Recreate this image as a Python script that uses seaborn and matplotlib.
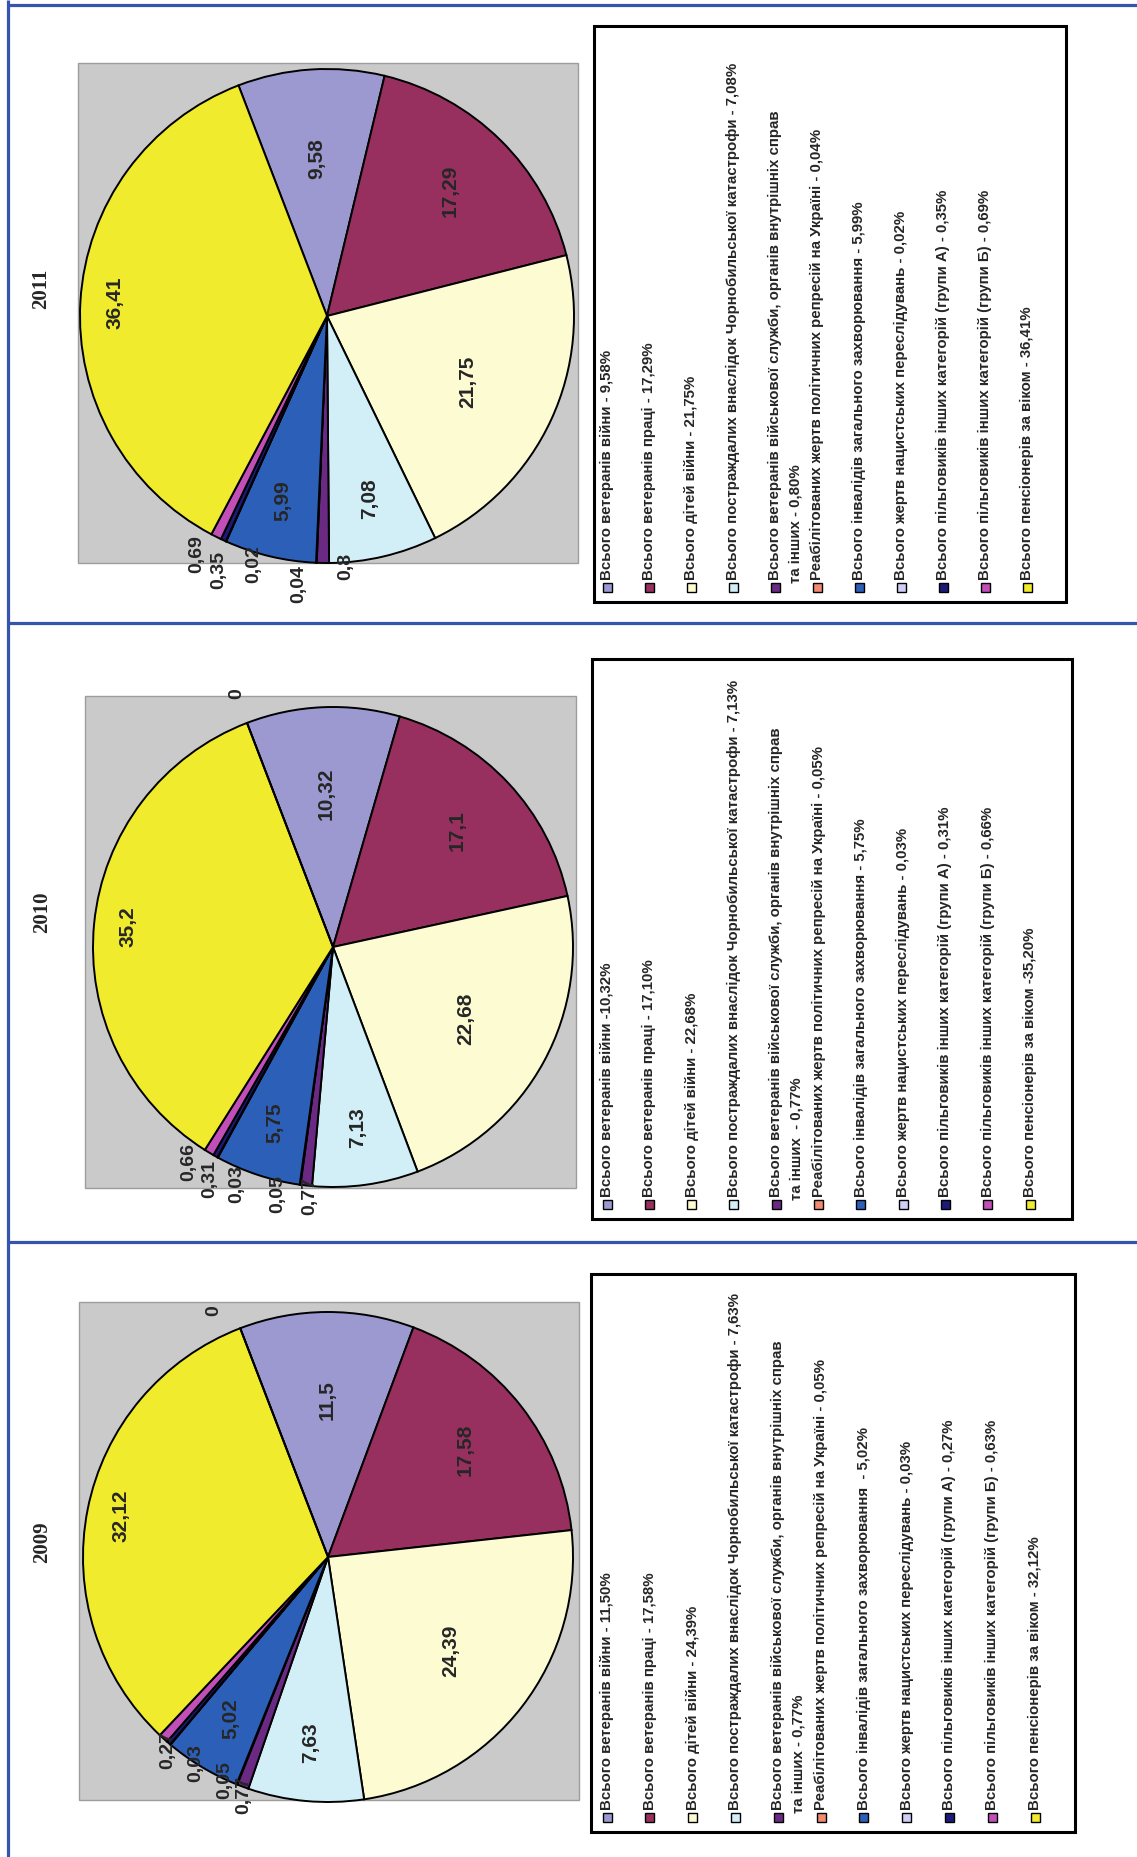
import numpy as np
import matplotlib.pyplot as plt
import seaborn as sns
from matplotlib.patches import Rectangle

W, H = 1137, 1857

YEARS = ['2011', '2010', '2009']

CATEGORIES = [
    'Всього ветеранів війни',
    'Всього ветеранів праці',
    'Всього дітей війни',
    'Всього постраждалих внаслідок Чорнобильської катастрофи',
    'Всього ветеранів військової служби, органів внутрішніх справ\nта інших',
    'Реабілітованих жертв політичних репресій на Україні',
    'Всього інвалідів загального захворювання',
    'Всього жертв нацистських переслідувань',
    'Всього пільговиків інших категорій (групи А)',
    'Всього пільговиків інших категорій (групи Б)',
    'Всього пенсіонерів за віком',
]

# shares, %; the trailing 0 is the unnamed zero point shown as "0" on the pie
VALUES_2011 = [9.58, 17.29, 21.75, 7.08, 0.80, 0.04, 5.99, 0.02, 0.35, 0.69, 36.41]
VALUES_2010 = [10.32, 17.10, 22.68, 7.13, 0.77, 0.05, 5.75, 0.03, 0.31, 0.66, 35.20, 0]
VALUES_2009 = [11.50, 17.58, 24.39, 7.63, 0.77, 0.05, 5.02, 0.03, 0.27, 0.63, 32.12, 0]

PCT_2011 = [' - 9,58%', ' - 17,29%', ' - 21,75%', ' - 7,08%', ' - 0,80%', ' - 0,04%',
            ' - 5,99%', ' - 0,02%', ' - 0,35%', ' - 0,69%', ' - 36,41%']
PCT_2010 = [' -10,32%', ' - 17,10%', ' - 22,68%', ' - 7,13%', '  - 0,77%', ' - 0,05%',
            ' - 5,75%', ' - 0,03%', ' - 0,31%', ' - 0,66%', ' -35,20%']
PCT_2009 = [' - 11,50%', ' - 17,58%', ' - 24,39%', ' - 7,63%', ' - 0,77%', ' - 0,05%',
            '  - 5,02%', ' - 0,03%', ' - 0,27%', ' - 0,63%', ' - 32,12%']

# Excel-like palette, toned as in the scan
PALETTE = sns.color_palette(['#9b99d0', '#98305f', '#fdfbd2', '#d2eff7', '#6a2a84', '#f08a70',
                             '#2b5fb8', '#cfcff5', '#1c1c78', '#c24fb8', '#f1eb2e', '#33e0f0'])
BLUE = '#3554ad'

# layout of each panel in pixels (page coords, y down)
PANELS = {
    '2011': dict(title=(41, 289), gray=(78, 63, 578, 563), pie=(327, 316, 247),
                 box=(594, 26, 1066, 602), col0=607, step=42.0),
    '2010': dict(title=(42, 912), gray=(85, 696, 576, 1188), pie=(333, 947, 240),
                 box=(592, 659, 1072, 1219), col0=607, step=42.3),
    '2009': dict(title=(42, 1542), gray=(79, 1302, 579, 1800), pie=(328, 1557, 245),
                 box=(591, 1274, 1075, 1832), col0=607, step=42.8),
}

# radial position of labels drawn inside the slices
INNER_R = [0.64, 0.71, 0.63, 0.76, 0, 0, 0.77, 0, 0, 0, 0.86, 0]

# pixel nudges (right, down) of outside labels from the rim point; None = not shown
NUDGES = {
    '2011': {4: (23, -10), 5: (-18, 2), 7: (28, 4), 8: (-5, 11), 9: (-19, -2)},
    '2010': {4: (4, -8), 5: (-22, -10), 7: (19, 8), 8: (-6, 4), 9: (-20, -10), 11: (-10, -24)},
    '2009': {4: (1, -11), 5: (-12, -23), 7: (25, 0), 8: (-1, -12), 9: None, 11: (-26, -12)},
}

DATA = {'2011': (VALUES_2011, PCT_2011), '2010': (VALUES_2010, PCT_2010),
        '2009': (VALUES_2009, PCT_2009)}

sns.set_theme(style='white')
plt.rcParams['font.family'] = ['Liberation Sans', 'DejaVu Sans']

fig = plt.figure(figsize=(W / 100, H / 100), dpi=100)
fig.patch.set_facecolor('white')

bg = fig.add_axes([0, 0, 1, 1])
bg.set_xlim(0, W)
bg.set_ylim(H, 0)
bg.axis('off')

# page frame
bg.plot([8, 8], [0, H], color=BLUE, lw=2.3, solid_capstyle='butt')
for yy in [5, 623, 1242]:
    bg.plot([8, W], [yy, yy], color=BLUE, lw=2.3, solid_capstyle='butt')


def fmt(v):
    return f'{v:g}'.replace('.', ',')


for year in YEARS:
    p = PANELS[year]
    values, pcts = DATA[year]

    bg.text(*p['title'], year, rotation=90, ha='center', va='center',
            fontsize=15, fontweight='bold', family='Liberation Serif')

    gx0, gy0, gx1, gy1 = p['gray']
    bg.add_patch(Rectangle((gx0, gy0), gx1 - gx0, gy1 - gy0, facecolor='#cacaca',
                           edgecolor='#9d9d9d', lw=1))

    cx, cy, r = p['pie']
    ax = fig.add_axes([(cx - r) / W, 1 - (cy + r) / H, 2 * r / W, 2 * r / H])
    wedges, _ = ax.pie(values, colors=PALETTE[:len(values)], startangle=111,
                       counterclock=False,
                       wedgeprops=dict(edgecolor='black', linewidth=1.4))
    ax.set_xlim(-1, 1)
    ax.set_ylim(-1, 1)
    ax.set_aspect('auto')
    ax.axis('off')

    for i, (w, v) in enumerate(zip(wedges, values)):
        mid = np.deg2rad((w.theta1 + w.theta2) / 2)
        if v >= 5:
            rr = INNER_R[i]
            ax.text(rr * np.cos(mid), rr * np.sin(mid), fmt(v), rotation=90,
                    ha='center', va='center', fontsize=15, fontweight='bold')
        else:
            nudge = NUDGES[year].get(i)
            if nudge is None:
                continue
            upper = np.sin(mid) > 0
            ax.annotate(fmt(v), xy=(np.cos(mid), np.sin(mid)),
                        xytext=(nudge[0], -nudge[1]), textcoords='offset pixels',
                        rotation=90, ha='center', va='bottom' if upper else 'top',
                        fontsize=14, fontweight='bold', annotation_clip=False)

    # legend
    bx0, by0, bx1, by1 = p['box']
    bg.add_patch(Rectangle((bx0, by0), bx1 - bx0, by1 - by0, facecolor='white',
                           edgecolor='black', lw=2.2, zorder=2))
    my = by1 - 15
    for i, (name, pct) in enumerate(zip(CATEGORIES, pcts)):
        x = p['col0'] + i * p['step']
        bg.add_patch(Rectangle((x - 4.5, my - 4.5), 9, 9, facecolor=PALETTE[i],
                               edgecolor='black', lw=1, zorder=3))
        lines = (name + pct).split('\n')
        for j, line in enumerate(lines):
            bg.text(x + j * 20, my - 7 + (3 if j else 0), line, rotation=90,
                    ha='center', va='bottom', fontsize=10.8, fontweight='bold', zorder=3)

fig.savefig('out.png', dpi=100, facecolor='white')
